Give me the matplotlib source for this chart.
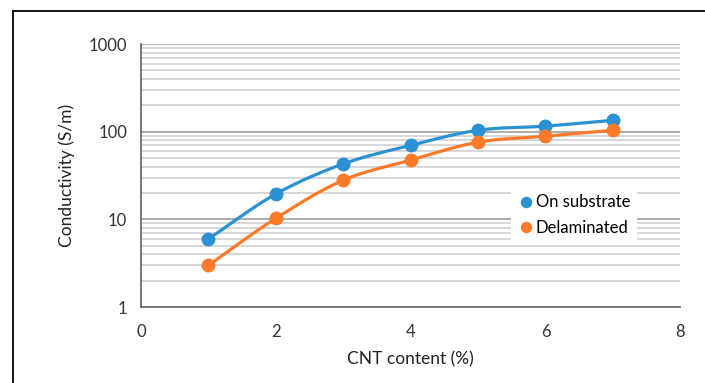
#%% imports
import numpy as np
import matplotlib.pyplot as plt
from matplotlib.lines import Line2D
from matplotlib.ticker import FixedLocator, NullFormatter

#%% data
cnt = [1, 2, 3, 4, 5, 6, 7]
on_substrate = [6.0, 19.5, 43, 70, 104, 116, 135]
delaminated = [3.0, 10.3, 28, 47.5, 76, 89, 104]
series_names = ['On substrate', 'Delaminated']
colors = ['#2b91d3', '#fd7a2b']

#%% functions
def smooth(x, y, n=20):
    # catmull-rom through the points, y in log space (like excel's smoothed line)
    x = np.asarray(x, float)
    ly = np.log10(y)
    px = np.concatenate([[2*x[0]-x[1]], x, [2*x[-1]-x[-2]]])
    py = np.concatenate([[2*ly[0]-ly[1]], ly, [2*ly[-1]-ly[-2]]])
    xs, ys = [], []
    t = np.linspace(0, 1, n)
    for i in range(1, len(px)-2):
        for p, out in ((px, xs), (py, ys)):
            p0, p1, p2, p3 = p[i-1], p[i], p[i+1], p[i+2]
            out.extend(0.5*((2*p1) + (-p0+p2)*t + (2*p0-5*p1+4*p2-p3)*t**2
                            + (-p0+3*p1-3*p2+p3)*t**3))
    return np.array(xs), 10**np.array(ys)

#%% plot
plt.rcParams['font.family'] = ['Lato', 'DejaVu Sans']
fig = plt.figure(figsize=(7.05, 3.83), dpi=100)
ax = fig.add_axes([0.2, 0.198, 0.765, 0.687])

ax.set_yscale('log')
ax.set_xlim(0, 8)
ax.set_ylim(1, 1000)

minor = [m*10**e for e in range(0, 3) for m in range(2, 10)]
ax.yaxis.set_minor_locator(FixedLocator(minor))
ax.yaxis.set_minor_formatter(NullFormatter())
ax.set_yticks([1, 10, 100, 1000])
ax.set_yticklabels(['1', '10', '100', '1000'])
ax.set_xticks([0, 2, 4, 6, 8])
ax.grid(True, which='major', axis='y', color='#a6a6a6', lw=1.3)
ax.grid(True, which='minor', axis='y', color='#d4d4d4', lw=1.3)
ax.set_axisbelow(True)
ax.tick_params(which='both', length=0, labelsize=12, colors='#333333', pad=10)
ax.tick_params(axis='x', pad=12)

for s in ['top', 'right']:
    ax.spines[s].set_visible(False)
for s in ['left', 'bottom']:
    ax.spines[s].set_color('#6e6e6e')
    ax.spines[s].set_linewidth(1.3)

for yv, name, c in zip([on_substrate, delaminated], series_names, colors):
    sx, sy = smooth(cnt, yv)
    ax.plot(sx, sy, color=c, lw=2.3, zorder=3)
    ax.plot(cnt, yv, 'o', color=c, ms=9, zorder=4, label=name)

ax.set_xlabel('CNT content (%)', fontsize=12.5, color='#222222', labelpad=8)
ax.set_ylabel('Conductivity (S/m)', fontsize=12.5, color='#222222', labelpad=10)

leg = ax.legend(loc='center left', bbox_to_anchor=(0.67, 0.35), frameon=True,
                fontsize=12, handletextpad=0.1, handlelength=1.0,
                markerscale=0.8, borderpad=0.4, labelspacing=0.55)
leg.get_frame().set_edgecolor('none')
leg.get_frame().set_facecolor('white')
leg.get_frame().set_alpha(1)

# outer chart border (left and top visible)
fig.add_artist(Line2D([0.0185, 0.0185], [0, 0.972], color='black', lw=1.3))
fig.add_artist(Line2D([0.0185, 1], [0.972, 0.972], color='black', lw=1.3))

fig.savefig('out.png', dpi=100)
